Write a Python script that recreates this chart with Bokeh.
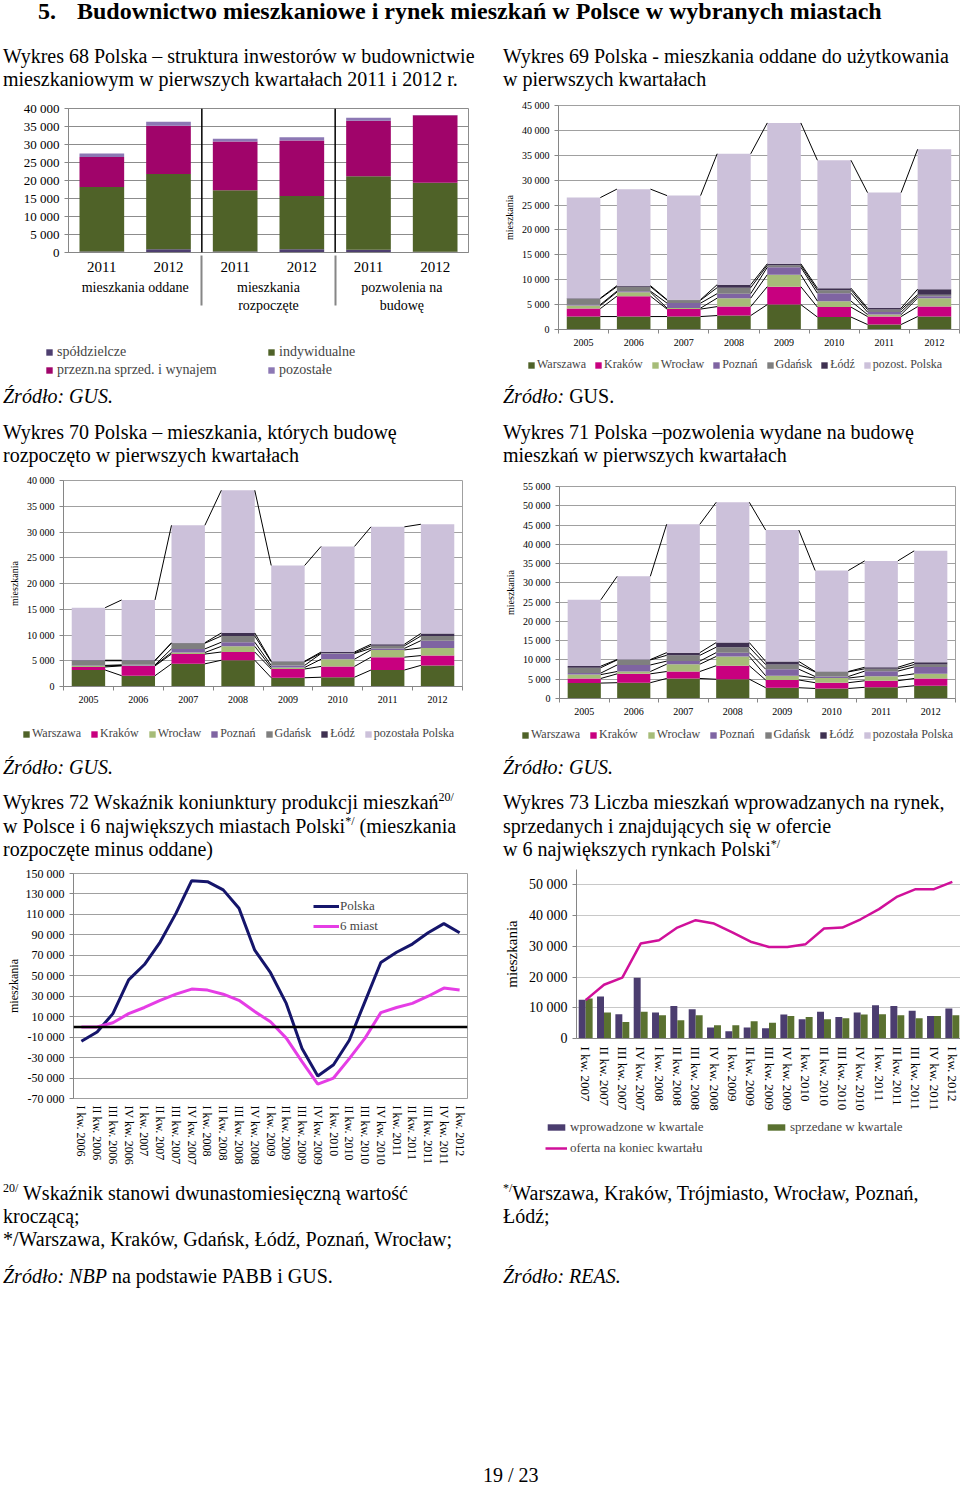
import numpy as np
from bokeh.plotting import figure
from bokeh.models import (Div, Range1d, FactorRange, FixedTicker, SingleIntervalTicker,
                          Legend, LegendItem, Span, ColumnDataSource, CustomJSTickFormatter)
from bokeh.layouts import row, column
from bokeh.embed import file_html
from bokeh.resources import INLINE
from bokeh.transform import dodge

SERIF = "Liberation Serif"

# ---------------- data ----------------
# Wykres 68
inv_groups = ["mieszkania oddane", "mieszkania\nrozpoczęte", "pozwolenia na\nbudowę"]
inv_years = ["2011", "2012"]
inv_coop = [300, 900, 300, 900, 750, 200]
inv_indiv = [17900, 20900, 17000, 14800, 20450, 19200]
inv_sale = [8300, 13400, 13500, 15400, 15400, 18700]
inv_other = [1000, 1100, 800, 900, 800, 100]
inv_names = ["spółdzielcze", "indywidualne", "przezn.na sprzed. i wynajem", "pozostałe"]

years = ["2005", "2006", "2007", "2008", "2009", "2010", "2011", "2012"]
cities = ["Warszawa", "Kraków", "Wrocław", "Poznań", "Gdańsk", "Łódź"]

# Wykres 69 - oddane
odd_waw = [2600, 2600, 2600, 2800, 5000, 2500, 1000, 2600]
odd_krk = [1600, 4100, 1500, 1800, 3600, 2000, 1600, 2000]
odd_wro = [600, 800, 200, 1700, 2400, 1200, 400, 1700]
odd_poz = [200, 200, 1000, 900, 1500, 1600, 500, 400]
odd_gda = [1200, 900, 600, 1200, 400, 600, 500, 300]
odd_lod = [100, 200, 100, 600, 300, 400, 300, 1100]
odd_rest = [20200, 19400, 20900, 26300, 28300, 25700, 23200, 28100]

# Wykres 70 - rozpoczete
roz_waw = [3200, 2100, 4400, 5100, 1700, 1800, 3200, 4100]
roz_krk = [600, 1900, 1900, 1600, 1700, 2100, 2500, 1900]
roz_wro = [200, 100, 300, 1100, 300, 1400, 1400, 1500]
roz_poz = [100, 100, 700, 800, 400, 1100, 300, 1400]
roz_gda = [900, 800, 1100, 1200, 700, 100, 500, 900]
roz_lod = [100, 100, 100, 600, 100, 200, 300, 500]
roz_rest = [10200, 11700, 22800, 27700, 18600, 20500, 22800, 21200]

# Wykres 71 - pozwolenia
poz_waw = [4000, 4100, 5200, 5000, 2800, 2600, 2900, 3300]
poz_krk = [1200, 2300, 1800, 3500, 2000, 1500, 1700, 1900]
poz_wro = [1000, 600, 1900, 2400, 1100, 1200, 1200, 1200]
poz_poz = [400, 1700, 800, 1000, 1700, 400, 1300, 1800]
poz_gda = [1400, 1300, 1500, 1400, 1200, 1200, 600, 600]
poz_lod = [400, 100, 700, 1200, 800, 100, 400, 600]
poz_rest = [17200, 21600, 33300, 36400, 34100, 26200, 27600, 28900]

# Wykres 72
q72 = ["I kw. 2006", "II kw. 2006", "III kw. 2006", "IV kw. 2006",
       "I kw. 2007", "II kw. 2007", "III kw. 2007", "IV kw. 2007",
       "I kw. 2008", "II kw. 2008", "III kw. 2008", "IV kw. 2008",
       "I kw. 2009", "II kw. 2009", "III kw. 2009", "IV kw. 2009",
       "I kw. 2010", "II kw. 2010", "III kw. 2010", "IV kw. 2010",
       "I kw. 2011", "II kw. 2011", "III kw. 2011", "IV kw. 2011", "I kw. 2012"]
ind_polska = [-14000, -5000, 13000, 46000, 61000, 83000, 111000, 143000, 142000, 134000,
              116000, 75000, 53000, 23000, -21000, -48000, -37000, -13000, 25000, 63000,
              73000, 81000, 92000, 101000, 92000]
ind_6miast = [0, 0, 4000, 13000, 19000, 26000, 32000, 37000, 36000, 32000,
              26000, 15000, 5000, -11000, -34000, -56000, -50000, -31000, -11000, 14000,
              19000, 23000, 30000, 38000, 36000]
ticks72 = [-70000, -50000, -30000, -10000, 10000, 30000, 50000, 70000, 90000, 110000, 130000, 150000]

# Wykres 73
q73 = ["I kw. 2007", "II kw. 2007", "III kw. 2007", "IV kw. 2007",
       "I kw. 2008", "II kw. 2008", "III kw. 2008", "IV kw. 2008",
       "I kw. 2009", "II kw. 2009", "III kw. 2009", "IV kw. 2009",
       "I kw. 2010", "II kw. 2010", "III kw. 2010", "IV kw. 2010",
       "I kw. 2011", "II kw. 2011", "III kw. 2011", "IV kw. 2011", "I kw. 2012"]
wprowadzone = [12600, 13700, 7900, 19800, 8500, 10600, 9500, 3600, 2400, 3600, 3300,
               7800, 6300, 8700, 7000, 8500, 10800, 10600, 9000, 7300, 9800]
sprzedane = [13000, 8500, 5400, 8700, 7600, 5900, 7600, 4300, 4300, 5600, 5100,
             7300, 7000, 6300, 6600, 7800, 7900, 7600, 6600, 7300, 7600]
oferta = [12500, 17500, 19800, 30900, 32000, 36100, 38500, 37400, 34500, 31500, 29800,
          29800, 30700, 35800, 36100, 38800, 42100, 46200, 48600, 48600, 51000]
ticks73 = [0, 10000, 20000, 30000, 40000, 50000]

# ---------------- styles ----------------
C68 = ["#4E3F70", "#4F6228", "#A0046A", "#8C78B4"]
CITY_COLORS = ["#4F6228", "#C8007F", "#A6BC78", "#7F64A2", "#7F7F7F", "#3F3151", "#CCC1DA"]
C73 = {"w": "#4B3D6F", "s": "#5A7130", "o": "#D0109A"}
GRID = "#A0A0A0"
AXIS = "#868686"
NAN = float("nan")


def thousands():
    return CustomJSTickFormatter(code="return String(tick).replace(/\\B(?=(\\d{3})+(?!\\d))/g, ' ');")


def style_axes(p, tick_size, grid=GRID):
    for ax in (p.xaxis + p.yaxis):
        ax.major_label_text_font = SERIF
        ax.major_label_text_font_size = tick_size
        ax.major_label_text_color = "black"
        ax.axis_line_color = AXIS
        ax.major_tick_line_color = AXIS
        ax.minor_tick_line_color = None
        ax.major_tick_out = 4
        ax.major_tick_in = 0
        ax.axis_label_text_font = SERIF
        ax.axis_label_text_font_style = "normal"
        ax.axis_label_text_color = "black"
    p.xgrid.grid_line_color = None
    p.ygrid.grid_line_color = grid
    p.background_fill_color = "white"
    p.border_fill_color = "white"


def make_fig(fw, fh, left, right, top, bottom, **kw):
    return figure(output_backend="svg", toolbar_location=None,
                  frame_width=fw, frame_height=fh,
                  min_border_left=left, min_border_right=right,
                  min_border_top=top, min_border_bottom=bottom, **kw)


def legend_fig(width, height, entries, loc, size, gw, gh, **legkw):
    """A small figure holding only a legend, placed below a chart (its key renderers draw nothing)."""
    p = figure(output_backend="svg", toolbar_location=None, frame_width=width, frame_height=height,
               min_border=0, x_range=Range1d(0, 1), y_range=Range1d(0, 1),
               x_axis_type=None, y_axis_type=None)
    p.outline_line_color = None
    p.background_fill_color = "white"
    p.border_fill_color = "white"
    items = []
    for label, kind, color in entries:
        if kind == "bar":
            r = p.vbar(x=[NAN], top=[NAN], width=1, fill_color=color, line_color=None)
        else:
            r = p.line(x=[NAN], y=[NAN], line_color=color, line_width=2.5)
        items.append(LegendItem(label=label, renderers=[r]))
    p.add_layout(Legend(items=items, location=loc, label_text_font=SERIF, label_text_font_size=size,
                        glyph_width=gw, glyph_height=gh, padding=0, margin=0,
                        border_line_color=None, background_fill_alpha=0, **legkw))
    return p


# ---------------- Wykres 68 ----------------
factors68 = [(g, y) for g in inv_groups for y in inv_years]
p68 = make_fig(400, 144, 68, 32, 13, 88,
               x_range=FactorRange(factors=factors68, group_padding=0, factor_padding=0),
               y_range=Range1d(0, 40000))
src68 = ColumnDataSource(dict(x=factors68, coop=inv_coop, indiv=inv_indiv, sale=inv_sale, other=inv_other))
r68 = p68.vbar_stack(["coop", "indiv", "sale", "other"], x="x", width=0.67, color=C68,
                     line_color=None, source=src68)
for i in range(1, len(inv_groups)):
    p68.add_layout(Span(location=i * len(inv_years), dimension="height", line_color="black", line_width=1.5))
style_axes(p68, "13px", grid="#8C8C8C")
p68.yaxis.ticker = SingleIntervalTicker(interval=5000, num_minor_ticks=0)
p68.yaxis.formatter = thousands()
p68.xaxis.major_label_text_font_size = "15px"
p68.xaxis.group_text_font = SERIF
p68.xaxis.group_text_font_size = "14px"
p68.xaxis.group_text_color = "black"
p68.xaxis.group_text_font_style = "normal"
p68.xaxis.separator_line_color = AXIS
p68.xaxis.major_tick_line_color = None
p68.outline_line_color = "#8C8C8C"
L68 = legend_fig(500, 40, [(n, "bar", c) for n, c in zip(inv_names, C68)], (45, 2), "14px", 8, 8,
                 orientation="horizontal", ncols=2, label_width=208, label_standoff=4, spacing=2)


# ---------------- Wykres 69/70/71 ----------------
def city_fig(series, ymax, ystep, fw, fh, left, right, top, bottom,
             tick_size="10px", bar_w=0.67):
    xs = np.arange(len(years))
    p = make_fig(fw, fh, left, right, top, bottom,
                 x_range=Range1d(-0.5, len(years) - 0.5), y_range=Range1d(0, ymax))
    keys = [f"s{i}" for i in range(len(series))]
    data = dict(x=xs)
    for k, s in zip(keys, series):
        data[k] = s
    src = ColumnDataSource(data)
    p.vbar_stack(keys, x="x", width=bar_w, color=CITY_COLORS, line_color=None, source=src)
    cum = np.cumsum(np.array(series), axis=0)
    hw = bar_w / 2
    for lvl in cum:
        p.segment(x0=xs[:-1] + hw, y0=lvl[:-1], x1=xs[1:] - hw, y1=lvl[1:],
                  line_color="black", line_width=1)
    style_axes(p, tick_size)
    p.xaxis.ticker = FixedTicker(ticks=[float(v) for v in xs],
                                 minor_ticks=[float(v) - 0.5 for v in range(len(years) + 1)])
    p.xaxis.major_label_overrides = {int(i): y for i, y in enumerate(years)}
    p.xaxis.major_tick_line_color = None
    p.xaxis.minor_tick_line_color = AXIS
    p.xaxis.minor_tick_out = 4
    p.xaxis.minor_tick_in = 0
    p.yaxis.ticker = SingleIntervalTicker(interval=ystep, num_minor_ticks=0)
    p.yaxis.formatter = thousands()
    p.yaxis.axis_label = "mieszkania"
    p.yaxis.axis_label_text_font_size = tick_size
    p.yaxis.axis_label_standoff = 4
    p.outline_line_color = GRID
    return p


def city_legend(width, height, other_label, loc, spacing):
    names = cities + [other_label]
    return legend_fig(width, height, [(n, "bar", c) for n, c in zip(names, CITY_COLORS)], loc,
                      "12px", 8, 8, orientation="horizontal", label_standoff=2, spacing=spacing)


p69 = city_fig([odd_waw, odd_krk, odd_wro, odd_poz, odd_gda, odd_lod, odd_rest],
               45000, 5000, 401, 224, 57, 2, 10, 24)
L69 = city_legend(460, 27, "pozost. Polska", (27, 8), 8)
p70 = city_fig([roz_waw, roz_krk, roz_wro, roz_poz, roz_gda, roz_lod, roz_rest],
               40000, 5000, 399, 206, 63, 38, 10, 24)
L70 = city_legend(500, 38, "pozostała Polska", (22, 7), 9)
p71 = city_fig([poz_waw, poz_krk, poz_wro, poz_poz, poz_gda, poz_lod, poz_rest],
               55000, 5000, 396, 212, 59, 5, 16, 24)
L71 = city_legend(460, 26, "pozostała Polska", (21, 6), 9)

# ---------------- Wykres 72 ----------------
p72 = make_fig(394, 225, 73, 33, 11, 72,
               x_range=FactorRange(factors=q72), y_range=Range1d(-70000, 150000))
style_axes(p72, "12px")
src72 = ColumnDataSource(dict(q=q72, pl=ind_polska, m6=ind_6miast))
l_pl = p72.line(x="q", y="pl", source=src72, line_color="#15156B", line_width=3)
l_m6 = p72.line(x="q", y="m6", source=src72, line_color="#E53DE5", line_width=3)
p72.add_layout(Span(location=0, dimension="width", line_color="black", line_width=2.5))
p72.yaxis.ticker = FixedTicker(ticks=ticks72)
p72.yaxis.formatter = thousands()
p72.yaxis.axis_label = "mieszkania"
p72.yaxis.axis_label_text_font_size = "12px"
p72.yaxis.axis_label_standoff = 2
p72.xaxis.major_label_orientation = "vertical"
p72.xaxis.major_tick_line_color = None
p72.xaxis.major_label_standoff = 3
p72.xaxis.axis_line_color = None
p72.outline_line_color = GRID
p72.add_layout(Legend(items=[LegendItem(label="Polska", renderers=[l_pl]),
                             LegendItem(label="6 miast", renderers=[l_m6])],
                      location=(240, 164), label_text_font=SERIF, label_text_font_size="13px",
                      glyph_width=26, glyph_height=14, label_standoff=1, spacing=4,
                      padding=0, margin=0, border_line_color=None, background_fill_alpha=0))

# ---------------- Wykres 73 ----------------
p73 = make_fig(385, 169, 71, 4, 7, 80,
               x_range=FactorRange(factors=q73), y_range=Range1d(0, 55000))
style_axes(p73, "14px", grid="#C8C8C8")
src73 = ColumnDataSource(dict(q=q73, w=wprowadzone, s=sprzedane, o=oferta))
p73.vbar(x=dodge("q", -0.19, range=p73.x_range), top="w", width=0.38, source=src73,
         fill_color=C73["w"], line_color=None)
p73.vbar(x=dodge("q", 0.19, range=p73.x_range), top="s", width=0.38, source=src73,
         fill_color=C73["s"], line_color=None)
p73.line(x="q", y="o", source=src73, line_color=C73["o"], line_width=2.5)
p73.yaxis.ticker = FixedTicker(ticks=ticks73)
p73.yaxis.formatter = thousands()
p73.yaxis.axis_label = "mieszkania"
p73.yaxis.axis_label_text_font_size = "15px"
p73.yaxis.axis_label_standoff = 6
p73.xaxis.major_label_orientation = "vertical"
p73.xaxis.major_label_text_font_size = "13px"
p73.xaxis.major_tick_line_color = None
p73.xaxis.major_label_standoff = 4
p73.outline_line_color = None
L73 = legend_fig(460, 52, [("wprowadzone w kwartale", "bar", C73["w"]),
                           ("sprzedane w kwartale", "bar", C73["s"]),
                           ("oferta na koniec kwartału", "line", C73["o"])],
                 (45, 14), "13px", 22, 8, orientation="horizontal", ncols=2,
                 label_width=190, label_standoff=3, spacing=5)


# ---------------- texts ----------------
def txt(html, w, h, size=20, pad_top=0, pad_left=3, lh=23, extra=""):
    style = (f"font-family:'{SERIF}';font-size:{size}px;line-height:{lh}px;white-space:nowrap;"
             f"padding-left:{pad_left}px;padding-top:{pad_top}px;color:black;{extra}")
    return Div(text=f'<div style="{style}">{html}</div>', width=w, height=h, margin=0)


SUP = '<span style="font-size:60%;vertical-align:super;line-height:0">{}</span>'

title = txt('5.<span style="padding-left:21px">Budownictwo mieszkaniowe i rynek mieszkań w Polsce '
            'w wybranych miastach</span>', 960, 40, size=24, pad_left=38, lh=22,
            extra="font-weight:bold;")
cap68 = txt("Wykres 68 Polska – struktura inwestorów w budownictwie<br>"
            "mieszkaniowym w pierwszych kwartałach 2011 i 2012 r.", 500, 55, pad_top=5)
cap69 = txt("Wykres 69 Polska - mieszkania oddane do użytkowania<br>w pierwszych kwartałach",
            460, 55, pad_top=5)
src_l1 = txt("<i>Źródło: GUS.</i>", 500, 38, pad_top=5)
src_r1 = txt("<i>Źródło:</i> GUS.", 460, 38, pad_top=5)
cap70 = txt("Wykres 70 Polska – mieszkania, których budowę<br>rozpoczęto w pierwszych kwartałach",
            500, 52, pad_top=3)
cap71 = txt("Wykres 71 Polska –pozwolenia wydane na budowę<br>mieszkań w pierwszych kwartałach",
            460, 52, pad_top=3)
src_l2 = txt("<i>Źródło: GUS.</i>", 500, 37, pad_top=8)
src_r2 = txt("<i>Źródło: GUS.</i>", 460, 37, pad_top=8)
cap72 = txt("Wykres 72 Wskaźnik koniunktury produkcji mieszkań" + SUP.format("20/") +
            "<br>w Polsce i 6 największych miastach Polski" + SUP.format("*/") +
            " (mieszkania<br>rozpoczęte minus oddane)", 500, 77, pad_top=6, lh=23.5)
cap73 = txt("Wykres 73 Liczba mieszkań wprowadzanych na rynek,<br>sprzedanych i znajdujących się "
            "w ofercie<br>w 6 największych rynkach Polski" + SUP.format("*/"), 460, 77, pad_top=6, lh=23.5)
foot_l = txt(SUP.format("20/") + " Wskaźnik stanowi dwunastomiesięczną wartość<br>kroczącą;<br>"
             "*/Warszawa, Kraków, Gdańsk, Łódź, Poznań, Wrocław;"
             '<div style="margin-top:14px"><i>Źródło: NBP</i> na podstawie PABB i GUS.</div>',
             500, 130, pad_top=12)
foot_r = txt(SUP.format("*/") + "Warszawa, Kraków, Trójmiasto, Wrocław, Poznań,<br>Łódź;<br>&nbsp;"
             '<div style="margin-top:14px"><i>Źródło: REAS.</i></div>', 460, 130, pad_top=12)
page_no = txt("19 / 23", 960, 184, pad_top=166, pad_left=483, lh=18)

layout = column(
    title,
    row(cap68, cap69),
    row(column(p68, L68), column(p69, L69)),
    row(src_l1, src_r1),
    row(cap70, cap71),
    row(column(p70, L70), column(p71, L71)),
    row(src_l2, src_r2),
    row(cap72, cap73),
    row(p72, column(p73, L73)),
    row(foot_l, foot_r),
    page_no,
)

with open("out.html", "w") as f:
    f.write(file_html(layout, INLINE, "Budownictwo mieszkaniowe"))
